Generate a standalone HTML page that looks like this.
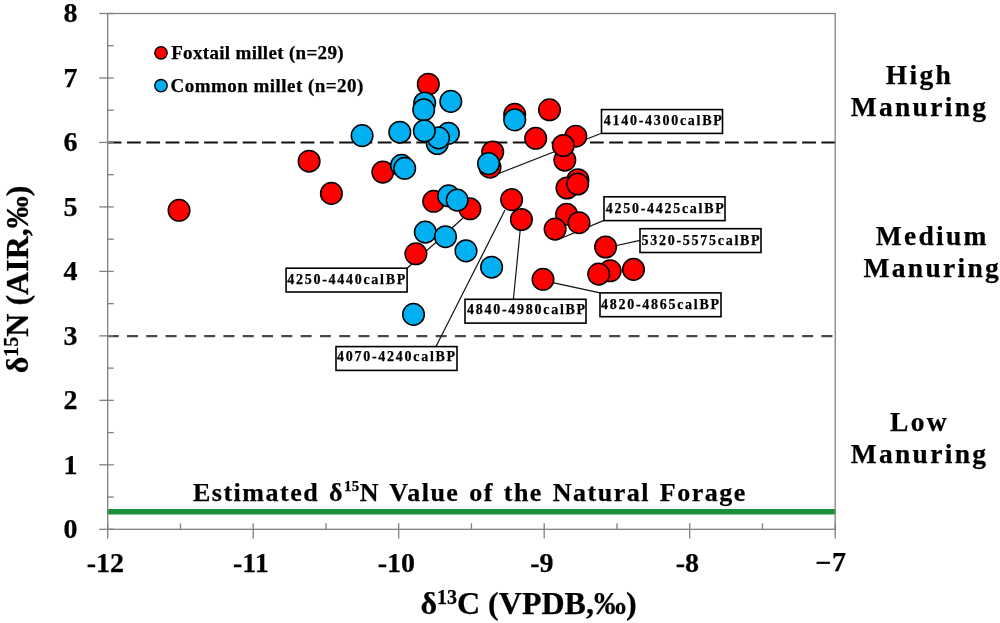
<!DOCTYPE html><html><head><meta charset="utf-8"><style>html,body{margin:0;padding:0;background:#fff;width:1000px;height:623px;overflow:hidden}svg{display:block;will-change:transform}text{font-family:"Liberation Serif",serif;font-weight:bold;fill:#000;stroke:#000;stroke-width:0.25px}</style></head><body>
<svg width="1000" height="623" viewBox="0 0 1000 623">
<rect width="1000" height="623" fill="#fff"/>
<line x1="107.7" y1="511.8" x2="835.2" y2="511.8" stroke="#1b8f3a" stroke-width="5.4"/>
<line x1="107.7" y1="142.6" x2="835.2" y2="142.6" stroke="#111" stroke-width="2" stroke-dasharray="13.8 5.49"/>
<line x1="107.7" y1="336.1" x2="835.2" y2="336.1" stroke="#484848" stroke-width="2.3" stroke-dasharray="11 8.29"/>
<rect x="107.7" y="13.5" width="727.5" height="515.8" fill="none" stroke="#808080" stroke-width="1.3"/>
<line x1="99.3" y1="529.30" x2="113.7" y2="529.30" stroke="#808080" stroke-width="1.3"/>
<line x1="99.3" y1="464.82" x2="113.7" y2="464.82" stroke="#808080" stroke-width="1.3"/>
<line x1="99.3" y1="400.35" x2="113.7" y2="400.35" stroke="#808080" stroke-width="1.3"/>
<line x1="99.3" y1="335.88" x2="113.7" y2="335.88" stroke="#808080" stroke-width="1.3"/>
<line x1="99.3" y1="271.40" x2="113.7" y2="271.40" stroke="#808080" stroke-width="1.3"/>
<line x1="99.3" y1="206.92" x2="113.7" y2="206.92" stroke="#808080" stroke-width="1.3"/>
<line x1="99.3" y1="142.45" x2="113.7" y2="142.45" stroke="#808080" stroke-width="1.3"/>
<line x1="99.3" y1="77.98" x2="113.7" y2="77.98" stroke="#808080" stroke-width="1.3"/>
<line x1="99.3" y1="13.50" x2="113.7" y2="13.50" stroke="#808080" stroke-width="1.3"/>
<line x1="107.7" y1="497.06" x2="113.7" y2="497.06" stroke="#808080" stroke-width="1.3"/>
<line x1="107.7" y1="432.59" x2="113.7" y2="432.59" stroke="#808080" stroke-width="1.3"/>
<line x1="107.7" y1="368.11" x2="113.7" y2="368.11" stroke="#808080" stroke-width="1.3"/>
<line x1="107.7" y1="303.64" x2="113.7" y2="303.64" stroke="#808080" stroke-width="1.3"/>
<line x1="107.7" y1="239.16" x2="113.7" y2="239.16" stroke="#808080" stroke-width="1.3"/>
<line x1="107.7" y1="174.69" x2="113.7" y2="174.69" stroke="#808080" stroke-width="1.3"/>
<line x1="107.7" y1="110.21" x2="113.7" y2="110.21" stroke="#808080" stroke-width="1.3"/>
<line x1="107.7" y1="45.74" x2="113.7" y2="45.74" stroke="#808080" stroke-width="1.3"/>
<line x1="107.70" y1="523.3" x2="107.70" y2="538.5" stroke="#808080" stroke-width="1.3"/>
<line x1="253.20" y1="523.3" x2="253.20" y2="538.5" stroke="#808080" stroke-width="1.3"/>
<line x1="398.70" y1="523.3" x2="398.70" y2="538.5" stroke="#808080" stroke-width="1.3"/>
<line x1="544.20" y1="523.3" x2="544.20" y2="538.5" stroke="#808080" stroke-width="1.3"/>
<line x1="689.70" y1="523.3" x2="689.70" y2="538.5" stroke="#808080" stroke-width="1.3"/>
<line x1="835.20" y1="523.3" x2="835.20" y2="538.5" stroke="#808080" stroke-width="1.3"/>
<line x1="180.45" y1="523.3" x2="180.45" y2="529.3" stroke="#808080" stroke-width="1.3"/>
<line x1="325.95" y1="523.3" x2="325.95" y2="529.3" stroke="#808080" stroke-width="1.3"/>
<line x1="471.45" y1="523.3" x2="471.45" y2="529.3" stroke="#808080" stroke-width="1.3"/>
<line x1="616.95" y1="523.3" x2="616.95" y2="529.3" stroke="#808080" stroke-width="1.3"/>
<line x1="762.45" y1="523.3" x2="762.45" y2="529.3" stroke="#808080" stroke-width="1.3"/>
<text x="77.5" y="538.00" font-size="28" text-anchor="end">0</text>
<text x="77.5" y="473.52" font-size="28" text-anchor="end">1</text>
<text x="77.5" y="409.05" font-size="28" text-anchor="end">2</text>
<text x="77.5" y="344.57" font-size="28" text-anchor="end">3</text>
<text x="77.5" y="280.10" font-size="28" text-anchor="end">4</text>
<text x="77.5" y="215.62" font-size="28" text-anchor="end">5</text>
<text x="77.5" y="151.15" font-size="28" text-anchor="end">6</text>
<text x="77.5" y="86.68" font-size="28" text-anchor="end">7</text>
<text x="77.5" y="22.20" font-size="28" text-anchor="end">8</text>
<text x="105.40" y="571.6" font-size="28" text-anchor="middle">-12</text>
<text x="250.90" y="571.6" font-size="28" text-anchor="middle">-11</text>
<text x="396.40" y="571.6" font-size="28" text-anchor="middle">-10</text>
<text x="541.90" y="571.6" font-size="28" text-anchor="middle">-9</text>
<text x="687.40" y="571.6" font-size="28" text-anchor="middle">-8</text>
<text x="815.6" y="571.6" font-size="28">−</text>
<text x="832.1" y="570.6" font-size="28">7</text>
<line x1="601.5" y1="133.2" x2="496" y2="174.5" stroke="#111" stroke-width="1.2"/>
<line x1="604" y1="220.4" x2="560" y2="238.7" stroke="#111" stroke-width="1.2"/>
<line x1="640" y1="240.4" x2="610" y2="247" stroke="#111" stroke-width="1.2"/>
<line x1="600" y1="292.9" x2="548" y2="281.6" stroke="#111" stroke-width="1.2"/>
<line x1="513.4" y1="299.3" x2="521" y2="222" stroke="#111" stroke-width="1.2"/>
<line x1="436" y1="346.6" x2="505" y2="210" stroke="#111" stroke-width="1.2"/>
<line x1="407.1" y1="268.2" x2="462.8" y2="218.2" stroke="#111" stroke-width="1.2"/>
<circle cx="179.05" cy="210.3" r="10.8" fill="#fe0000" stroke="#000" stroke-width="1.5"/>
<circle cx="309.1" cy="161.2" r="10.8" fill="#fe0000" stroke="#000" stroke-width="1.5"/>
<circle cx="331.4" cy="193.4" r="10.8" fill="#fe0000" stroke="#000" stroke-width="1.5"/>
<circle cx="382.8" cy="172.1" r="10.8" fill="#fe0000" stroke="#000" stroke-width="1.5"/>
<circle cx="428.3" cy="84.2" r="10.8" fill="#fe0000" stroke="#000" stroke-width="1.5"/>
<circle cx="433.7" cy="201.3" r="10.8" fill="#fe0000" stroke="#000" stroke-width="1.5"/>
<circle cx="469.9" cy="208.8" r="10.8" fill="#fe0000" stroke="#000" stroke-width="1.5"/>
<circle cx="415.9" cy="253.8" r="10.8" fill="#fe0000" stroke="#000" stroke-width="1.5"/>
<circle cx="492.7" cy="152" r="10.8" fill="#fe0000" stroke="#000" stroke-width="1.5"/>
<circle cx="490" cy="167.2" r="10.8" fill="#fe0000" stroke="#000" stroke-width="1.5"/>
<circle cx="514.7" cy="114.3" r="10.8" fill="#fe0000" stroke="#000" stroke-width="1.5"/>
<circle cx="549.5" cy="109.8" r="10.8" fill="#fe0000" stroke="#000" stroke-width="1.5"/>
<circle cx="535.7" cy="138.3" r="10.8" fill="#fe0000" stroke="#000" stroke-width="1.5"/>
<circle cx="575.8" cy="136.2" r="10.8" fill="#fe0000" stroke="#000" stroke-width="1.5"/>
<circle cx="564.8" cy="160.1" r="10.8" fill="#fe0000" stroke="#000" stroke-width="1.5"/>
<circle cx="563.3" cy="145.5" r="10.8" fill="#fe0000" stroke="#000" stroke-width="1.5"/>
<circle cx="577.9" cy="179.7" r="10.8" fill="#fe0000" stroke="#000" stroke-width="1.5"/>
<circle cx="567" cy="188" r="10.8" fill="#fe0000" stroke="#000" stroke-width="1.5"/>
<circle cx="577.7" cy="184" r="10.8" fill="#fe0000" stroke="#000" stroke-width="1.5"/>
<circle cx="511.6" cy="199.6" r="10.8" fill="#fe0000" stroke="#000" stroke-width="1.5"/>
<circle cx="521.4" cy="219.5" r="10.8" fill="#fe0000" stroke="#000" stroke-width="1.5"/>
<circle cx="566.6" cy="214.3" r="10.8" fill="#fe0000" stroke="#000" stroke-width="1.5"/>
<circle cx="579" cy="222.7" r="10.8" fill="#fe0000" stroke="#000" stroke-width="1.5"/>
<circle cx="555.1" cy="229.1" r="10.8" fill="#fe0000" stroke="#000" stroke-width="1.5"/>
<circle cx="605.6" cy="247" r="10.8" fill="#fe0000" stroke="#000" stroke-width="1.5"/>
<circle cx="610.2" cy="270.8" r="10.8" fill="#fe0000" stroke="#000" stroke-width="1.5"/>
<circle cx="598.7" cy="274.1" r="10.8" fill="#fe0000" stroke="#000" stroke-width="1.5"/>
<circle cx="633.5" cy="269.4" r="10.8" fill="#fe0000" stroke="#000" stroke-width="1.5"/>
<circle cx="543" cy="279.3" r="10.8" fill="#fe0000" stroke="#000" stroke-width="1.5"/>
<circle cx="362.1" cy="135.6" r="10.8" fill="#00b0f0" stroke="#000" stroke-width="1.5"/>
<circle cx="399.8" cy="132.2" r="10.8" fill="#00b0f0" stroke="#000" stroke-width="1.5"/>
<circle cx="424.7" cy="103" r="10.8" fill="#00b0f0" stroke="#000" stroke-width="1.5"/>
<circle cx="423.7" cy="109.8" r="10.8" fill="#00b0f0" stroke="#000" stroke-width="1.5"/>
<circle cx="450.8" cy="101.4" r="10.8" fill="#00b0f0" stroke="#000" stroke-width="1.5"/>
<circle cx="437.3" cy="143.5" r="10.8" fill="#00b0f0" stroke="#000" stroke-width="1.5"/>
<circle cx="448.4" cy="133.3" r="10.8" fill="#00b0f0" stroke="#000" stroke-width="1.5"/>
<circle cx="438.5" cy="137.9" r="10.8" fill="#00b0f0" stroke="#000" stroke-width="1.5"/>
<circle cx="424.3" cy="130.9" r="10.8" fill="#00b0f0" stroke="#000" stroke-width="1.5"/>
<circle cx="401.5" cy="165.4" r="10.8" fill="#00b0f0" stroke="#000" stroke-width="1.5"/>
<circle cx="404.7" cy="168.3" r="10.8" fill="#00b0f0" stroke="#000" stroke-width="1.5"/>
<circle cx="488.5" cy="163.6" r="10.8" fill="#00b0f0" stroke="#000" stroke-width="1.5"/>
<circle cx="514.7" cy="119.9" r="10.8" fill="#00b0f0" stroke="#000" stroke-width="1.5"/>
<circle cx="448.6" cy="195.8" r="10.8" fill="#00b0f0" stroke="#000" stroke-width="1.5"/>
<circle cx="457.2" cy="200.1" r="10.8" fill="#00b0f0" stroke="#000" stroke-width="1.5"/>
<circle cx="425.3" cy="232.1" r="10.8" fill="#00b0f0" stroke="#000" stroke-width="1.5"/>
<circle cx="445.5" cy="236.7" r="10.8" fill="#00b0f0" stroke="#000" stroke-width="1.5"/>
<circle cx="466" cy="250.9" r="10.8" fill="#00b0f0" stroke="#000" stroke-width="1.5"/>
<circle cx="491.6" cy="267.2" r="10.8" fill="#00b0f0" stroke="#000" stroke-width="1.5"/>
<circle cx="413.5" cy="314.4" r="10.8" fill="#00b0f0" stroke="#000" stroke-width="1.5"/>
<rect x="601.5" y="109.6" width="121" height="23.8" fill="#fff" stroke="#000" stroke-width="1.6"/>
<text x="603.8" y="124.7" font-size="14" letter-spacing="1.72">4140-4300calBP</text>
<rect x="604.0" y="196.8" width="121" height="23.8" fill="#fff" stroke="#000" stroke-width="1.6"/>
<text x="605.8" y="212.7" font-size="14" letter-spacing="1.72">4250-4425calBP</text>
<rect x="640.0" y="228.7" width="121" height="23.8" fill="#fff" stroke="#000" stroke-width="1.6"/>
<text x="641.6" y="244.7" font-size="14" letter-spacing="1.72">5320-5575calBP</text>
<rect x="600.0" y="292.9" width="121" height="23.8" fill="#fff" stroke="#000" stroke-width="1.6"/>
<text x="601.0" y="308.8" font-size="14" letter-spacing="1.72">4820-4865calBP</text>
<rect x="465.0" y="299.3" width="121" height="23.8" fill="#fff" stroke="#000" stroke-width="1.6"/>
<text x="467.1" y="314.4" font-size="14" letter-spacing="1.72">4840-4980calBP</text>
<rect x="286.1" y="268.2" width="121" height="23.8" fill="#fff" stroke="#000" stroke-width="1.6"/>
<text x="287.3" y="284.1" font-size="14" letter-spacing="1.72">4250-4440calBP</text>
<rect x="336.0" y="346.6" width="121" height="23.8" fill="#fff" stroke="#000" stroke-width="1.6"/>
<text x="337.1" y="361.1" font-size="14" letter-spacing="1.72">4070-4240calBP</text>
<circle cx="161" cy="52.8" r="6.2" fill="#fe0000" stroke="#000" stroke-width="1.4"/>
<circle cx="161" cy="85.7" r="6.2" fill="#00b0f0" stroke="#000" stroke-width="1.4"/>
<text x="171.2" y="59.1" font-size="19" letter-spacing="0.32">Foxtail millet (n=29)</text>
<text x="170.6" y="91.6" font-size="19" letter-spacing="0.46">Common millet (n=20)</text>
<text x="919.5" y="83.6" font-size="27.5" letter-spacing="2.3" text-anchor="middle">High</text><text x="919.5" y="115.6" font-size="27.5" letter-spacing="2.3" text-anchor="middle">Manuring</text>
<text x="932.3" y="244.7" font-size="27.5" letter-spacing="2.3" text-anchor="middle">Medium</text><text x="932.3" y="276.9" font-size="27.5" letter-spacing="2.3" text-anchor="middle">Manuring</text>
<text x="919.5" y="430.7" font-size="27.5" letter-spacing="2.3" text-anchor="middle">Low</text><text x="919.5" y="462.7" font-size="27.5" letter-spacing="2.3" text-anchor="middle">Manuring</text>
<text x="193" y="500.9" font-size="26" letter-spacing="1.5" word-spacing="1.85">Estimated δ<tspan font-size="15" dy="-9.5" letter-spacing="0.3">15</tspan><tspan dy="9.5" letter-spacing="1.5">N Value of the Natural Forage</tspan></text>
<text x="420.4" y="613.6" font-size="32">δ<tspan font-size="20" dy="-10">13</tspan><tspan dy="10">C (VPDB,‰)</tspan></text>
<text transform="translate(28,373.3) rotate(-90)" x="0" y="0" font-size="32">δ<tspan font-size="20" dy="-10">15</tspan><tspan dy="10">N (AIR,‰)</tspan></text>
</svg></body></html>
